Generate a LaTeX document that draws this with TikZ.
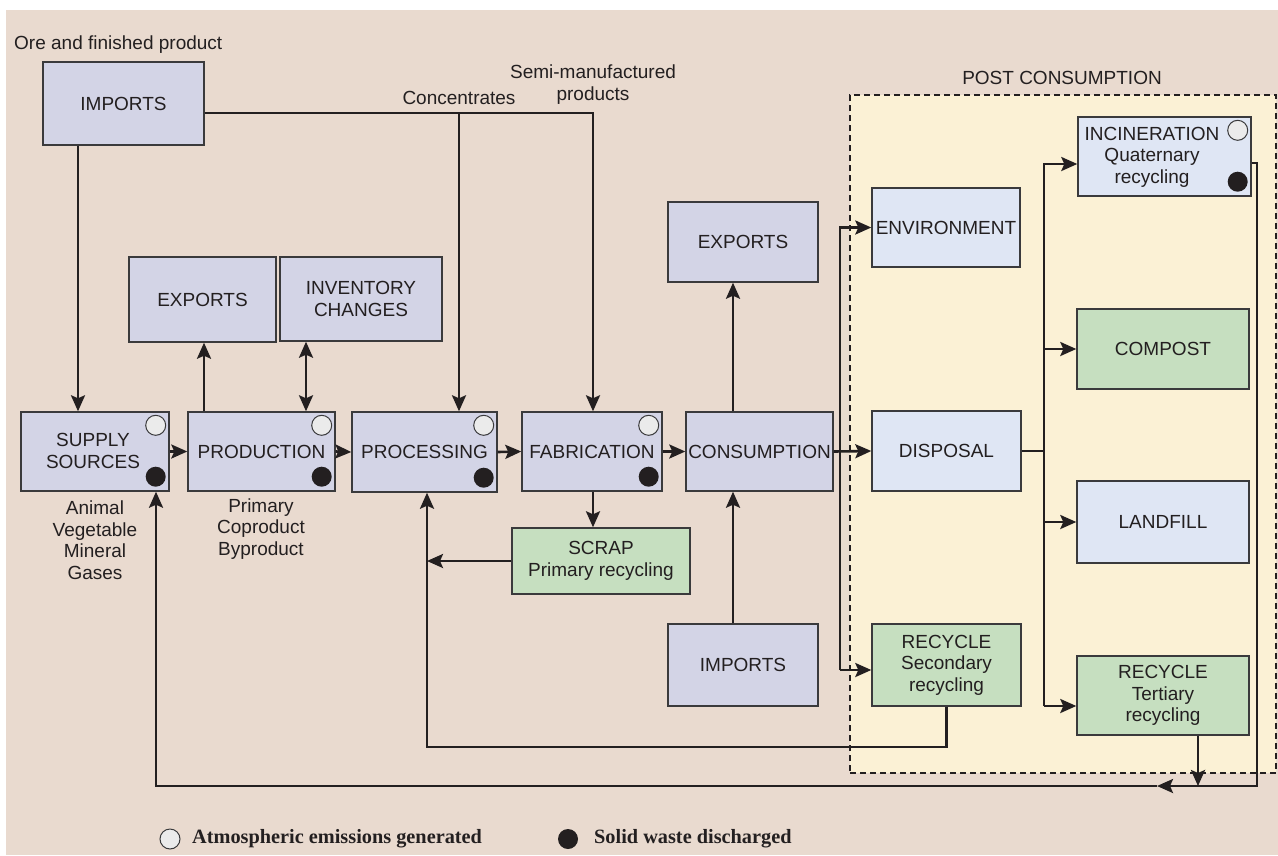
\documentclass[tikz,border=0pt]{standalone}
\usepackage{fontspec}
\setmainfont{Liberation Sans}
\newfontfamily\legfont{Liberation Serif}
\usetikzlibrary{arrows.meta,calc}
\definecolor{bgc}{HTML}{E9DACF}
\definecolor{creamc}{HTML}{FBF1D5}
\definecolor{purpc}{HTML}{D3D4E6}
\definecolor{bluec}{HTML}{DFE6F4}
\definecolor{greenc}{HTML}{C6DFC0}
\definecolor{linec}{HTML}{231F20}
\definecolor{borderc}{HTML}{3A3A3C}
\definecolor{emisc}{HTML}{EBEBEB}
\begin{document}
\begin{tikzpicture}[x=1pt,y=-1pt,
  every node/.style={text=linec, font=\fontsize{19}{21.5}\selectfont},
  basebox/.style={draw=borderc, line width=1.4pt, rectangle, inner sep=1pt, align=center},
  pbox/.style={basebox, fill=purpc},
  bbox/.style={basebox, fill=bluec},
  gbox/.style={basebox, fill=greenc},
  emis/.style={circle, draw=borderc, fill=emisc, line width=1pt, minimum size=20pt, inner sep=0pt},
  waste/.style={circle, fill=linec, minimum size=20pt, inner sep=0pt},
  conn/.style={draw=linec, line width=2.6pt},
  arr/.style={conn, -{Stealth[length=16pt,width=14pt,inset=3pt]}},
  dbl/.style={conn, {Stealth[length=16pt,width=14pt,inset=3pt]}-{Stealth[length=16pt,width=14pt,inset=3pt]}},
  lbl/.style={align=center, inner sep=0pt},
  postbox/.style={draw=linec, fill=creamc, line width=1.8pt, dash pattern=on 6pt off 4pt, rectangle, inner sep=0pt}
]
\fill[white] (0,0) rectangle (1278,855);
\useasboundingbox (0,0) rectangle (1278,855);
\fill[bgc] (6,10) rectangle (1278,855);

% post consumption area
\node[postbox, minimum width=426pt, minimum height=678pt] (post) at (1063,434) {};
\node[lbl] (postl) at (1062,78) {POST CONSUMPTION};

% boxes
\node[pbox, minimum width=161pt, minimum height=83pt] (imp) at (123.5,103.5) {IMPORTS};
\node[pbox, minimum width=147pt, minimum height=85pt] (expL) at (202.5,299.5) {EXPORTS};
\node[pbox, minimum width=162pt, minimum height=84pt] (inv) at (361,299) {INVENTORY\\CHANGES};
\node[pbox, minimum width=148pt, minimum height=79pt] (sup) at (95,451.5) {};
\node[lbl] (supt) at (93,451) {SUPPLY\\SOURCES};
\node[pbox, minimum width=147pt, minimum height=79pt] (prod) at (261.5,451.5) {PRODUCTION};
\node[pbox, minimum width=145pt, minimum height=80pt] (proc) at (424.5,452) {PROCESSING};
\node[pbox, minimum width=140pt, minimum height=79pt] (fab) at (592,451.5) {FABRICATION};
\node[pbox, minimum width=147pt, minimum height=79pt] (cons) at (759.5,451.5) {CONSUMPTION};
\node[gbox, minimum width=178pt, minimum height=66pt] (scrap) at (601,561) {SCRAP\\Primary recycling};
\node[pbox, minimum width=150pt, minimum height=80pt] (expR) at (743,242) {EXPORTS};
\node[pbox, minimum width=150pt, minimum height=82pt] (impB) at (743,665) {IMPORTS};
\node[bbox, minimum width=148pt, minimum height=79pt] (env) at (946,227.5) {ENVIRONMENT};
\node[bbox, minimum width=149pt, minimum height=80pt] (disp) at (946.5,451) {DISPOSAL};
\node[gbox, minimum width=149pt, minimum height=82pt] (sec) at (946.5,665) {RECYCLE\\Secondary\\recycling};
\node[bbox, minimum width=173pt, minimum height=79pt] (inc) at (1164.5,156.5) {};
\node[lbl] (inct) at (1152,157) {INCINERATION\\Quaternary\\recycling};
\node[gbox, minimum width=172pt, minimum height=80pt] (comp) at (1163,349) {COMPOST};
\node[bbox, minimum width=172pt, minimum height=82pt] (land) at (1163,522) {LANDFILL};
\node[gbox, minimum width=172pt, minimum height=79pt] (ter) at (1163,695.5) {RECYCLE\\Tertiary\\recycling};

% emission / waste markers
\foreach \b in {sup,prod,proc,fab,inc}{
  \node[emis] (\b-e) at ([xshift=-14pt,yshift=-14pt]\b.north east) {};
  \node[waste] (\b-w) at ([xshift=-14pt,yshift=15pt]\b.south east) {};
}

% free labels
\node[anchor=west, inner sep=0pt] (ore) at (14,45) {Ore and finished product};
\node[lbl] (conc) at (459,98) {Concentrates};
\node[lbl] (semi) at (593,84.5) {Semi-manufactured\\products};
\node[lbl] (supl) at (95,540) {Animal\\Vegetable\\Mineral\\Gases};
\node[lbl] (prodl) at (261,529) {Primary\\Coproduct\\Byproduct};

% coordinates
\coordinate (a1) at (78,0);
\coordinate (tj) at (593,113);
\coordinate (tc) at (459,113);
\coordinate (a2) at (204,0);
\coordinate (a3) at (306,0);
\coordinate (a4) at (427,0);
\coordinate (a5) at (427,747);
\coordinate (a6) at (733,0);
\coordinate (b2) at (840,670);
\coordinate (d0) at (1044,451);
\coordinate (dt) at (1044,164);
\coordinate (db) at (1044,706);
\coordinate (e1) at (1257,163);
\coordinate (e2) at (1257,786);
\coordinate (e3) at (1157,786);
\coordinate (e4) at (156,786);
\coordinate (f1) at (1198,0);

% connectors
\draw[arr] (imp.south -| a1) -- (sup.north -| a1);
\draw[arr] (imp.east |- tj) -- (tj) -- (fab.north -| tj);
\draw[arr] (tc) -- (proc.north -| tc);
\draw[arr] (prod.north -| a2) -- (expL.south -| a2);
\draw[dbl] (inv.south -| a3) -- (prod.north -| a3);
\draw[arr] (sup.east) -- (prod.west);
\draw[arr] (prod.east) -- (proc.west);
\draw[arr] (proc.east) -- (fab.west);
\draw[arr] (fab.east) -- (cons.west);
\draw[arr] (fab.south -| tj) -- (scrap.north -| tj);
\draw[arr] (scrap.west) -- (scrap.west -| a4);
\draw[arr] (sec.south) |- (a5) -- (proc.south -| a5);
\draw[arr] (cons.north -| a6) -- (expR.south -| a6);
\draw[arr] (impB.north -| a6) -- (cons.south -| a6);
\draw[arr] (cons.east) -- (disp.west);
\draw[arr] (b2) |- (env.west);
\draw[arr] (b2) -- (b2 -| sec.west);
\draw[conn] (disp.east) -- (disp.east -| d0);
\draw[arr] (db) -- (dt) -- (dt -| inc.west);
\draw[arr] (d0 |- comp.west) -- (comp.west);
\draw[arr] (d0 |- land.west) -- (land.west);
\draw[arr] (db) -- (db -| ter.west);
\draw[arr] (inc.east |- e1) -- (e1) -- (e2) -- (e3);
\draw[arr] (e3) -- (e4) -- (sup.south -| e4);
\draw[arr] (ter.south -| f1) -- (e2 -| f1);

% legend
\node[emis] (lege) at (170,839) {};
\node[anchor=west, inner sep=0pt, font=\legfont\bfseries\fontsize{20.3}{22}\selectfont] (legt1) at (192,839) {Atmospheric emissions generated};
\node[waste] (legw) at (568,839) {};
\node[anchor=west, inner sep=0pt, font=\legfont\bfseries\fontsize{20.3}{22}\selectfont] (legt2) at (594,839) {Solid waste discharged};
\end{tikzpicture}
\end{document}
